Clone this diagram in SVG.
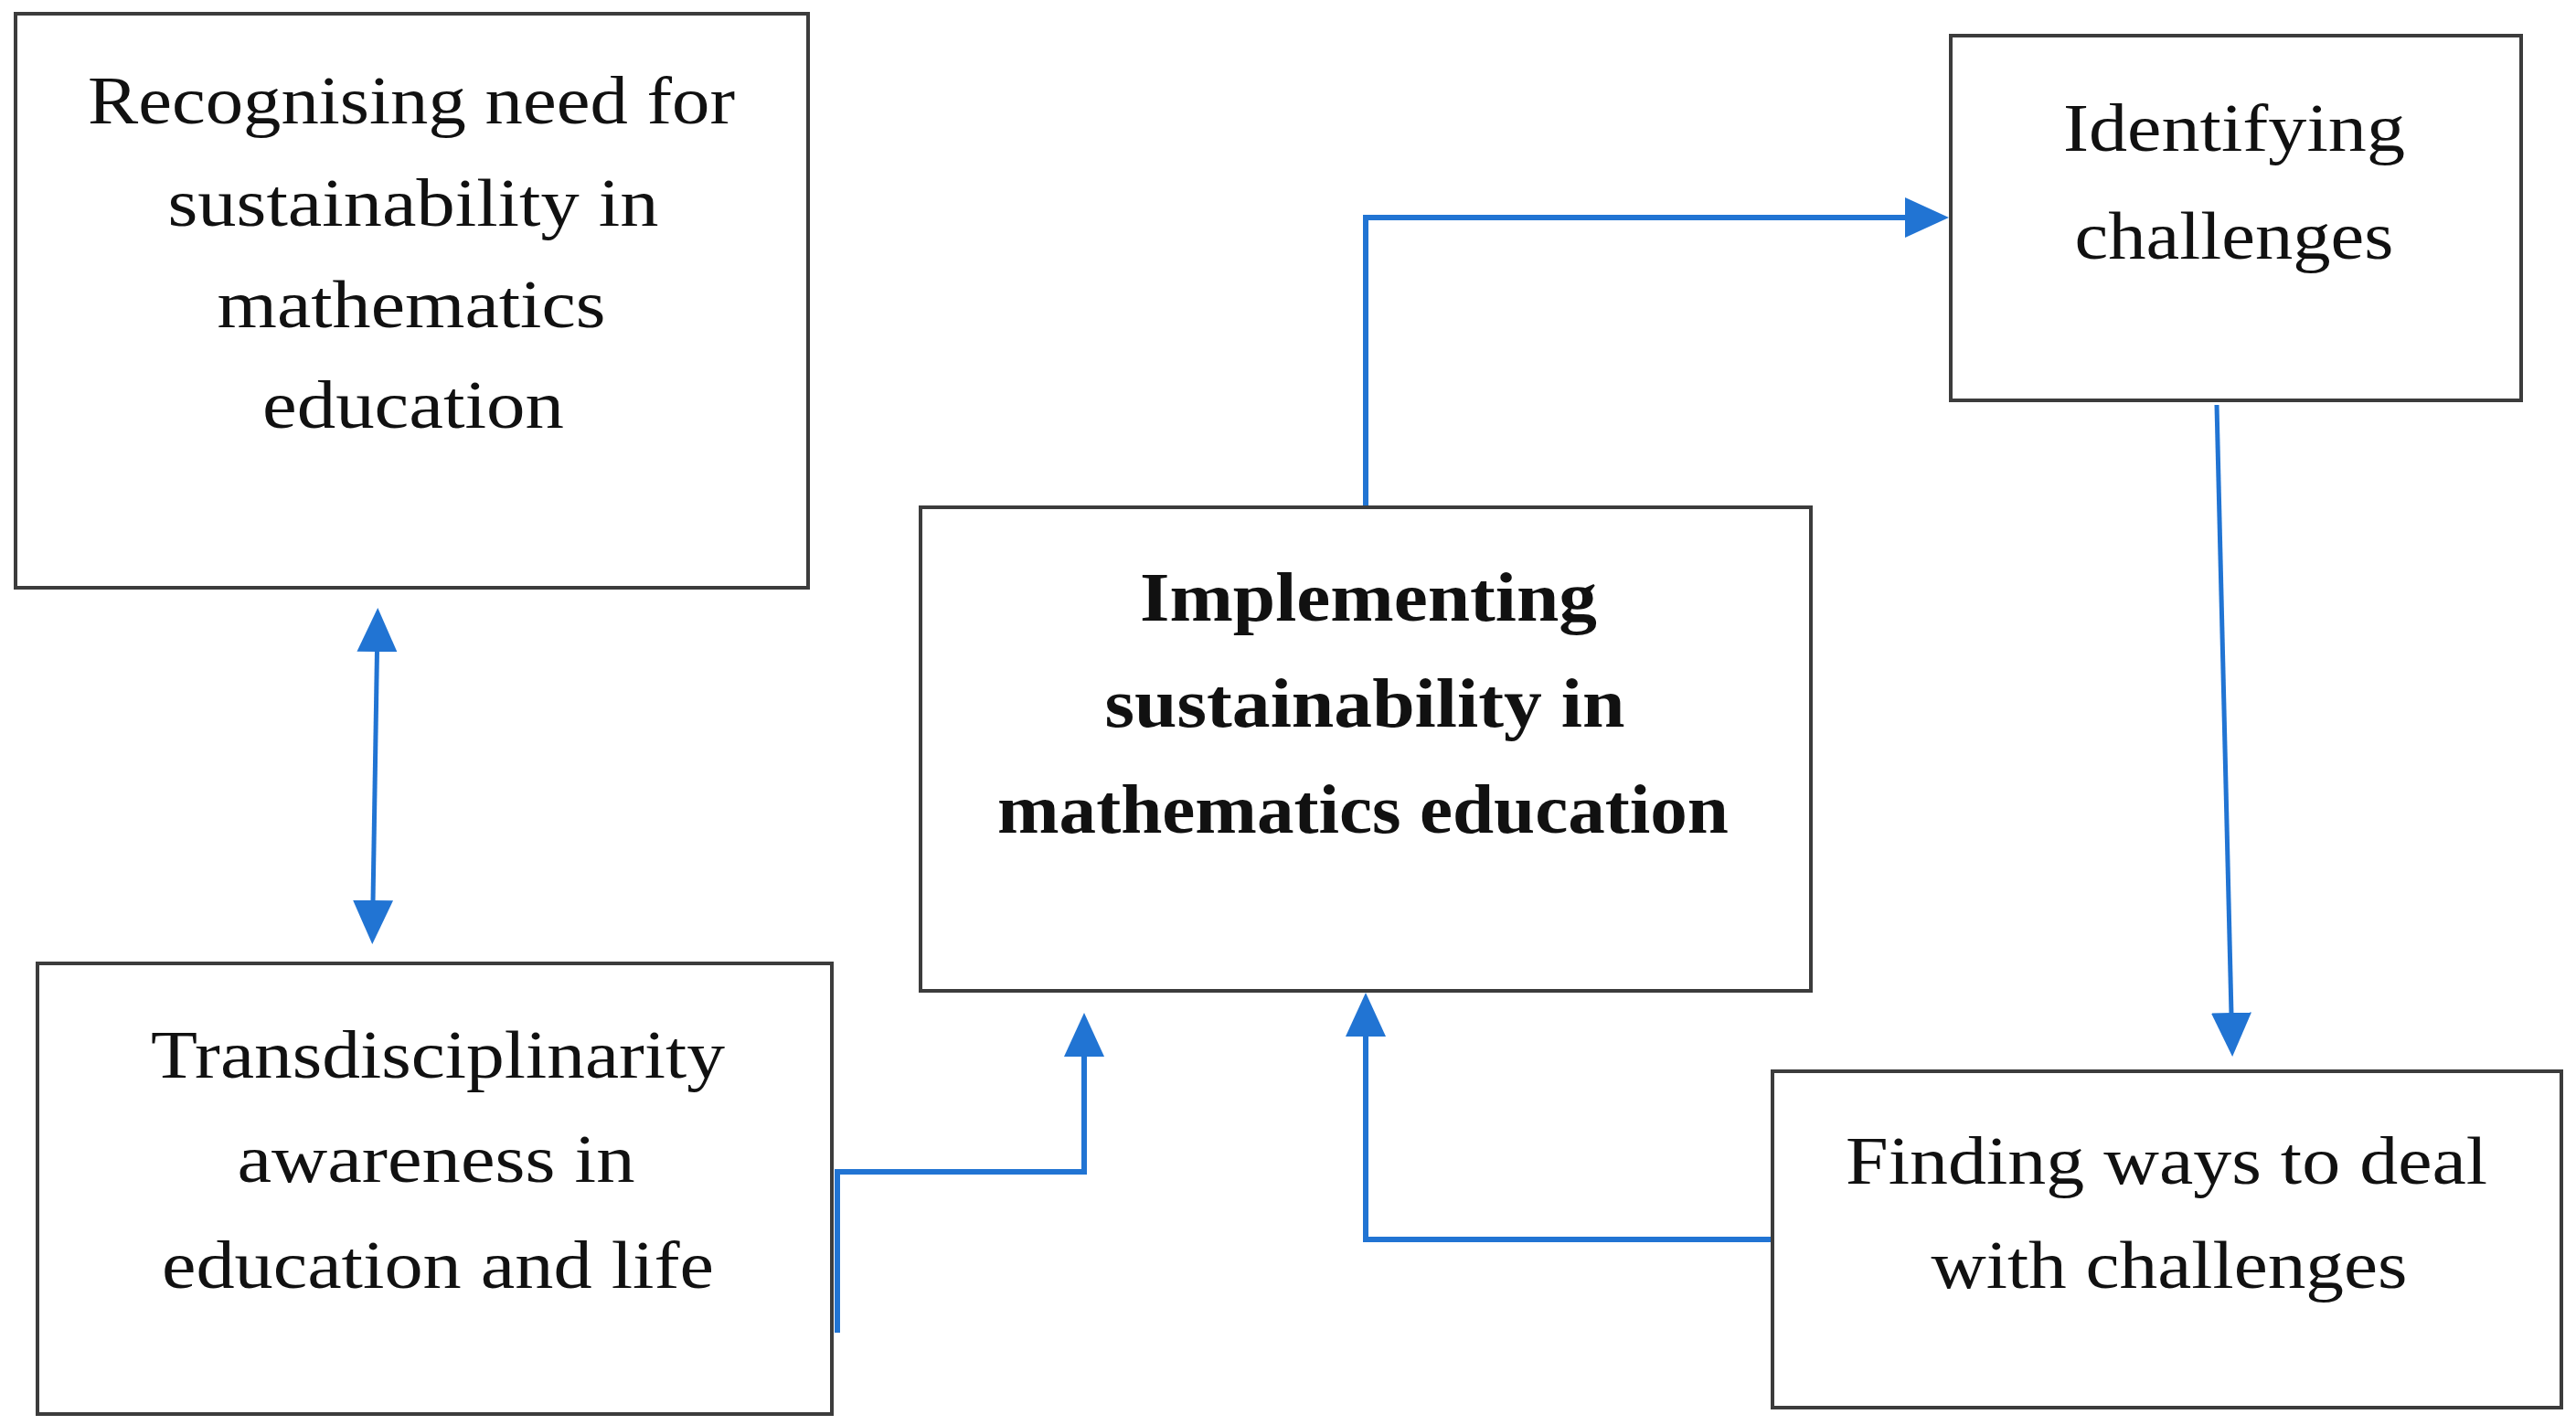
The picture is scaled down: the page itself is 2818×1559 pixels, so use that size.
<svg xmlns="http://www.w3.org/2000/svg" width="2818" height="1559" viewBox="0 0 2818 1559">
<style>
.box{fill:#ffffff;stroke:#3c3c3c;stroke-width:4}
.t{font-family:"Liberation Serif","Times New Roman",serif;font-size:74px;fill:#111111;text-anchor:middle}
.b{font-weight:bold;font-size:76px}
.c{fill:none;stroke:#2174D3;stroke-width:6}
.thin{stroke-width:5}
</style>
<defs>
<marker id="ah" markerUnits="userSpaceOnUse" markerWidth="48" markerHeight="46" viewBox="0 0 48 46" refX="2" refY="23" orient="auto-start-reverse">
<path d="M0,1 L48,23 L0,45 Z" fill="#2174D3"/>
</marker>
</defs>
<rect width="2818" height="1559" fill="#ffffff"/>
<g id="connectors">
<path class="c thin" d="M412.5,711 L408,987" marker-start="url(#ah)" marker-end="url(#ah)"/>
<path class="c" d="M916,1458 V1282 H1186 V1154" marker-end="url(#ah)"/>
<path class="c" d="M1494,555 V238 H2086" marker-end="url(#ah)"/>
<path class="c thin" d="M2425,443 L2441,1110" marker-end="url(#ah)"/>
<path class="c" d="M1939,1356 H1494 V1132" marker-end="url(#ah)"/>
</g>
<g id="node-recognising">
<rect class="box" x="17" y="15" width="867" height="628"/>
<text class="t" x="450" y="135" textLength="708" lengthAdjust="spacingAndGlyphs">Recognising need for</text>
<text class="t" x="452" y="247" textLength="537" lengthAdjust="spacingAndGlyphs">sustainability in</text>
<text class="t" x="450" y="358" textLength="425" lengthAdjust="spacingAndGlyphs">mathematics</text>
<text class="t" x="452" y="468" textLength="330" lengthAdjust="spacingAndGlyphs">education</text>
</g>
<g id="node-transdisciplinarity">
<rect class="box" x="41" y="1054" width="869" height="493"/>
<text class="t" x="479" y="1179" textLength="628" lengthAdjust="spacingAndGlyphs">Transdisciplinarity</text>
<text class="t" x="477" y="1293" textLength="435" lengthAdjust="spacingAndGlyphs">awareness in</text>
<text class="t" x="479" y="1409" textLength="604" lengthAdjust="spacingAndGlyphs">education and life</text>
</g>
<g id="node-implementing">
<rect class="box" x="1007" y="555" width="974" height="529"/>
<text class="t b" x="1497" y="679" textLength="500" lengthAdjust="spacingAndGlyphs">Implementing</text>
<text class="t b" x="1493" y="795" textLength="569" lengthAdjust="spacingAndGlyphs">sustainability in</text>
<text class="t b" x="1491" y="911" textLength="800" lengthAdjust="spacingAndGlyphs">mathematics education</text>
</g>
<g id="node-identifying">
<rect class="box" x="2134" y="39" width="624" height="399"/>
<text class="t" x="2444" y="165" textLength="374" lengthAdjust="spacingAndGlyphs">Identifying</text>
<text class="t" x="2444" y="283" textLength="349" lengthAdjust="spacingAndGlyphs">challenges</text>
</g>
<g id="node-finding">
<rect class="box" x="1939" y="1172" width="863" height="368"/>
<text class="t" x="2370" y="1295" textLength="702" lengthAdjust="spacingAndGlyphs">Finding ways to deal</text>
<text class="t" x="2373" y="1409" textLength="521" lengthAdjust="spacingAndGlyphs">with challenges</text>
</g>
</svg>
